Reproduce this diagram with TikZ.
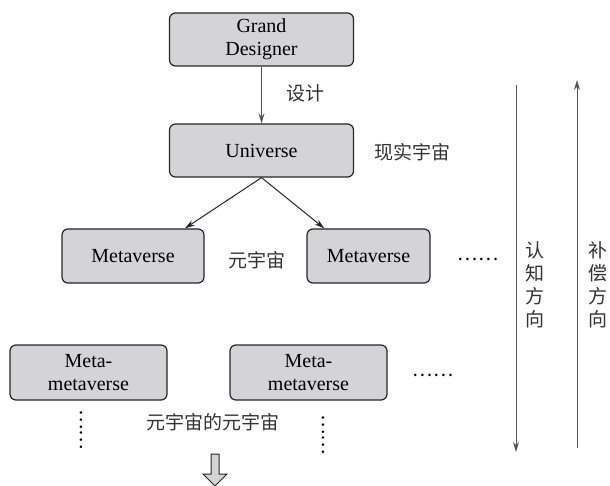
\documentclass[tikz,border=0pt]{standalone}
\usepackage{fontspec}
\setmainfont{Liberation Serif}
\newfontfamily\serifen{Liberation Serif}
\newfontfamily\cjk{Noto Sans CJK SC}
\usetikzlibrary{arrows.meta}
\definecolor{boxfill}{HTML}{D4D4D6}
\definecolor{linegray}{HTML}{555555}
\begin{document}
\begin{tikzpicture}[x=0.5pt,y=-0.5pt,
  box/.style={draw=black!85, line width=0.6pt, fill=boxfill, rounded corners=3pt,
    align=center, font=\serifen\fontsize{10}{11.5}\selectfont, inner sep=0pt},
  cn/.style={font=\cjk\fontsize{9.5}{11.5}\selectfont, text=black!80, inner sep=0pt, align=center},
  conn/.style={draw=linegray, line width=0.5pt, -{Stealth[length=5pt,width=3pt]}},
  dots/.style={font=\cjk\fontsize{9.5}{11}\selectfont, inner sep=0pt}
]
\useasboundingbox (0,0) rectangle (610,486);

\node[box, minimum width=92pt, minimum height=26.5pt] (gd) at (261.5,39.5) {Grand\\Designer};
\node[box, minimum width=92pt, minimum height=26.5pt] (u) at (261.5,150.5) {Universe};
\node[box, minimum width=71pt, minimum height=27pt] (m1) at (133,256) {Metaverse};
\node[box, minimum width=61.5pt, minimum height=27pt] (m2) at (368.5,256) {Metaverse};
\node[box, minimum width=78.5pt, minimum height=27.5pt] (mm1) at (88.5,372.5) {Meta-\\metaverse};
\node[box, minimum width=78.5pt, minimum height=27.5pt] (mm2) at (308.5,372.5) {Meta-\\metaverse};

\draw[conn] (gd.south) -- (u.north);
\node[cn] (design) at (305,93) {设计};
\node[cn] (real) at (412,152) {现实宇宙};
\draw[conn, draw=black!85] (u.south) -- (m1.28);
\draw[conn, draw=black!85] (u.south) -- (m2.148);
\node[cn] (meta) at (257,260) {元宇宙};
\node[cn] (metameta) at (213,422) {元宇宙的元宇宙};

\node[dots] (hd1) at (478,259) {……};
\node[dots] (hd2) at (433,375) {……};
\node[dots, rotate=90] (vd1) at (81,430) {……};
\node[dots, rotate=90] (vd2) at (323,435) {……};

\coordinate (c1) at (516,85);
\coordinate (c2) at (516,452);
\coordinate (p1) at (577,448);
\coordinate (p2) at (577,80);
\draw[conn] (c1) -- (c2);
\draw[conn] (p1) -- (p2);
\node[cn, font=\cjk\fontsize{9.5}{11.5}\selectfont] (cog) at (535,285) {认\\知\\方\\向};
\node[cn, font=\cjk\fontsize{9.5}{11.5}\selectfont] (comp) at (598,285) {补\\偿\\方\\向};

\draw[draw=black!85, line width=0.5pt, fill=boxfill] (211,454) -- (219,454) -- (219,474) -- (227,474) -- (215,486) -- (203,474) -- (211,474) -- cycle;
\end{tikzpicture}
\end{document}
